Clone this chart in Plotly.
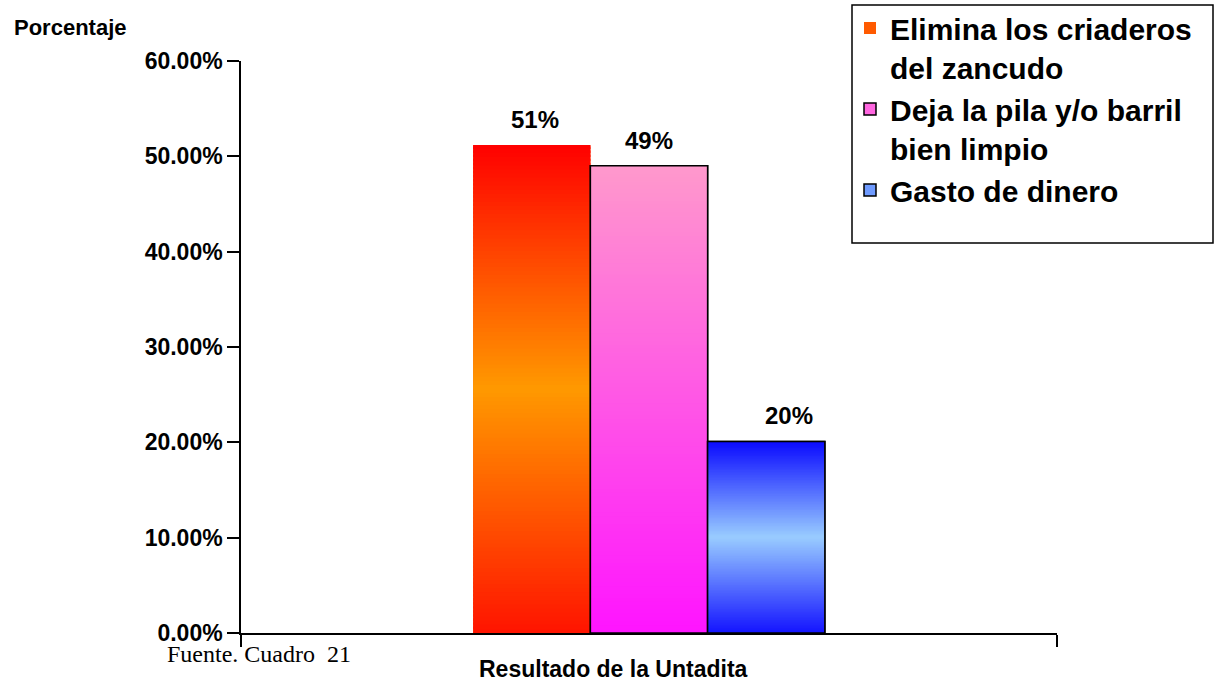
import plotly.graph_objects as go

# ---------------- data ----------------
categories = ["Resultado de la Untadita"]
series = [
    "Elimina los criaderos<br>del zancudo",
    "Deja la pila y/o barril<br>bien limpio",
    "Gasto de dinero",
]
values = [0.512, 0.490, 0.201]
labels = ["51%", "49%", "20%"]
y_ticks = [0.0, 0.1, 0.2, 0.3, 0.4, 0.5, 0.6]

# ---------------- styles ----------------
FONT = "Liberation Sans, Arial, sans-serif"
gradients = [
    [(0.0, "#FF1400"), (0.5, "#FF9900"), (1.0, "#FF0000")],
    [(0.0, "#FF14FF"), (1.0, "#FF99CC")],
    [(0.0, "#1414FF"), (0.5, "#99CCFF"), (1.0, "#0A0AFF")],
]
legend_colors = ["#FF5A00", "#FF66E0", "#6F9BFF"]
outline_widths = [0, 1.5, 1.5]
label_nudge = [3, 0, 23]
N = 120          # gradient slices per bar
OVERLAP = 1.6    # slices overlap slightly to hide seams

W, H = 1220, 680
ML, MR, MT, MB = 241, 163, 61, 47
BARGAP = 0.569


def hex2rgb(h):
    h = h.lstrip("#")
    return tuple(int(h[i:i + 2], 16) for i in (0, 2, 4))


def interp(stops, t):
    for (t0, c0), (t1, c1) in zip(stops[:-1], stops[1:]):
        if t0 <= t <= t1:
            f = (t - t0) / (t1 - t0) if t1 > t0 else 0
            a, b = hex2rgb(c0), hex2rgb(c1)
            r = [round(a[k] + (b[k] - a[k]) * f) for k in range(3)]
            return f"rgb({r[0]},{r[1]},{r[2]})"
    return stops[-1][1]


fig = go.Figure()
for i, (name, v) in enumerate(zip(series, values)):
    g = f"g{i}"
    # solid base (legend entry)
    fig.add_bar(
        x=categories, y=[v], name=name, offsetgroup=g,
        marker=dict(color=legend_colors[i],
                    line=dict(color="black", width=outline_widths[i])),
        hoverinfo="skip", showlegend=True,
    )
    # gradient fill
    ts = [(k + 0.5) / N for k in range(N)]
    step = v / N
    heights = [step * OVERLAP] * (N - 1) + [step]
    fig.add_bar(
        x=categories * N, y=heights, base=[k * step for k in range(N)],
        offsetgroup=g,
        marker=dict(color=[interp(gradients[i], t) for t in ts], line=dict(width=0)),
        hoverinfo="skip", showlegend=False,
    )
    # outline on top
    fig.add_bar(
        x=categories, y=[v], offsetgroup=g, name=name.replace("<br>", " "),
        marker=dict(color="rgba(0,0,0,0)",
                    line=dict(color="black", width=outline_widths[i])),
        showlegend=False, hovertemplate="%{y:.0%}<extra></extra>",
    )

plot_w = W - ML - MR
ph = H - MT - MB
bw = plot_w * (1 - BARGAP) / len(series)
annotations = []
for i, (v, lab) in enumerate(zip(values, labels)):
    annotations.append(dict(
        x=categories[0], y=v, xref="x", yref="y", text=lab, showarrow=False,
        yanchor="bottom", yshift=10, xshift=(i - 1) * bw + label_nudge[i],
        font=dict(family=FONT, size=24, color="black", weight="bold"),
    ))

annotations += [
    dict(text="Porcentaje", xref="paper", yref="paper",
         x=(12 - ML) / plot_w, y=(H - MB - 27) / ph,
         xanchor="left", yanchor="middle", showarrow=False,
         font=dict(family=FONT, size=22, color="black", weight="bold")),
    dict(text="Fuente. Cuadro&nbsp; 21", xref="paper", yref="paper",
         x=(165 - ML) / plot_w, y=(H - MB - 654) / ph,
         xanchor="left", yanchor="middle", showarrow=False,
         font=dict(family="Liberation Serif, Times New Roman, serif", size=24, color="black")),
    dict(text="Resultado de la Untadita", xref="paper", yref="paper",
         x=(613 - ML) / plot_w, y=(H - MB - 669) / ph,
         xanchor="center", yanchor="middle", showarrow=False,
         font=dict(family=FONT, size=23, color="black", weight="bold")),
]

fig.update_layout(
    width=W, height=H, autosize=False,
    margin=dict(l=ML, r=MR, t=MT, b=MB, pad=0, autoexpand=False),
    paper_bgcolor="white", plot_bgcolor="white",
    barmode="group", bargap=BARGAP, bargroupgap=0,
    font=dict(family=FONT, color="black"),
    showlegend=True,
    legend=dict(
        x=(850 - ML) / plot_w, y=(H - MB - 2) / ph, xanchor="left", yanchor="top",
        bgcolor="rgba(0,0,0,0)", borderwidth=0, valign="top", traceorder="normal",
        font=dict(family=FONT, size=30, color="black", weight="bold"),
        tracegroupgap=0,
    ),
    shapes=[dict(type="rect", xref="paper", yref="paper",
                 x0=(852 - ML) / plot_w, x1=(1213 - ML) / plot_w,
                 y0=(H - MB - 243) / ph, y1=(H - MB - 5) / ph,
                 line=dict(color="black", width=1.5), fillcolor="rgba(0,0,0,0)")],
    annotations=annotations,
    xaxis=dict(
        type="category", range=[-0.5, 0.5], showticklabels=False,
        tickson="boundaries", ticks="outside", ticklen=12, tickwidth=1.5, tickcolor="black",
        showline=True, linecolor="black", linewidth=1.5, showgrid=False, zeroline=False,
        fixedrange=True,
    ),
    yaxis=dict(
        range=[0, 0.6], tickvals=y_ticks, tickformat=".2%",
        ticks="outside", ticklen=12, tickwidth=1.5, tickcolor="black",
        showline=True, linecolor="black", linewidth=1.5, showgrid=False, zeroline=False,
        tickfont=dict(family=FONT, size=23, color="black", weight="bold"),
        fixedrange=True,
    ),
)

fig.write_html("out.html", config={"displayModeBar": False},
               post_script="document.body.style.margin='0';")
